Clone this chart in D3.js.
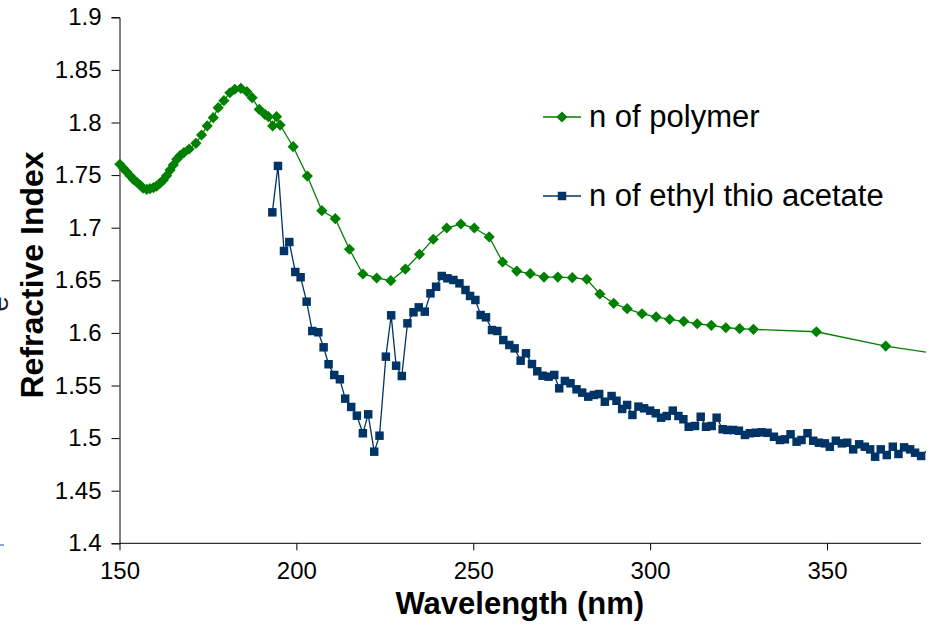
<!DOCTYPE html>
<html>
<head>
<meta charset="utf-8">
<script src="https://cdn.jsdelivr.net/npm/d3@7"></script>
<style>
  body { margin: 0; background: #fff; }
  text { font-family: "Liberation Sans", Arial, sans-serif; }
</style>
</head>
<body>
<script>
// tick labels
var xTicks = [150, 200, 250, 300, 350];
var yTicks = [1.4, 1.45, 1.5, 1.55, 1.6, 1.65, 1.7, 1.75, 1.8, 1.85, 1.9];

// n of polymer
var polyWl = [150.1, 151.1, 152.0, 153.0, 153.9, 154.9, 155.8, 156.7, 157.7, 158.6,
  159.6, 160.5, 161.4, 162.4, 163.3, 164.3, 165.2, 166.2, 167.1, 168.2,
  169.7, 171.6, 173.2, 174.8, 176.5, 177.9, 179.5, 181.2, 182.6, 184.3,
  186.0, 187.5, 189.5, 191.1, 192.1, 193.3, 194.4, 195.4, 199.1, 203.1,
  207.2, 211.0, 215.0, 218.8, 222.7, 226.7, 230.8, 234.8, 238.7, 242.5,
  246.5, 250.3, 254.5, 258.3, 262.3, 266.1, 270.0, 273.9, 278.0, 282.1,
  285.8, 289.7, 293.5, 297.7, 301.7, 305.5, 309.5, 313.3, 317.3, 321.4,
  325.3, 329.2, 347.0, 366.6, 390.0];
var polyN = [1.7603, 1.7565, 1.7532, 1.7494, 1.7460, 1.7432, 1.7406, 1.7375, 1.7365, 1.7371,
  1.7380, 1.7396, 1.7422, 1.7453, 1.7494, 1.7548, 1.7596, 1.7650, 1.7685, 1.7713,
  1.7748, 1.7802, 1.7881, 1.7967, 1.8046, 1.8141, 1.8207, 1.8283, 1.8316, 1.8325,
  1.8293, 1.8236, 1.8125, 1.8078, 1.8055, 1.7967, 1.8055, 1.7976, 1.7770, 1.7491,
  1.7162, 1.7086, 1.6795, 1.6560, 1.6522, 1.6496, 1.6607, 1.6747, 1.6890, 1.6997,
  1.7035, 1.6997, 1.6912, 1.6674, 1.6588, 1.6563, 1.6531, 1.6531, 1.6525, 1.6510,
  1.6370, 1.6281, 1.6230, 1.6182, 1.6152, 1.6129, 1.6110, 1.6087, 1.6072, 1.6049,
  1.6040, 1.6034, 1.6011, 1.5875, 1.5756];

// n of ethyl thio acetate
var thioWl = [193.2, 194.8, 196.5, 198.0, 199.7, 201.2, 202.9, 204.5, 206.2, 207.7,
  209.1, 210.7, 212.3, 213.8, 215.5, 217.1, 218.8, 220.3, 222.0, 223.5,
  225.3, 226.8, 228.2, 229.8, 231.4, 233.1, 234.6, 236.3, 237.9, 239.5,
  241.1, 242.7, 244.4, 246.1, 247.8, 249.1, 250.6, 252.1, 253.6, 255.3,
  256.8, 258.5, 260.2, 261.7, 263.4, 264.9, 266.6, 268.1, 269.6, 271.3,
  272.9, 274.3, 275.9, 277.5, 279.2, 280.8, 282.5, 284.1, 285.6, 287.2,
  289.1, 290.5, 292.1, 293.5, 295.0, 296.7, 298.3, 300.0, 301.6, 303.1,
  304.7, 306.4, 308.0, 309.4, 310.9, 312.7, 314.3, 315.8, 317.4, 318.8,
  320.5, 321.8, 323.5, 325.1, 326.8, 328.2, 329.9, 331.5, 333.2, 335.0,
  336.7, 338.1, 339.7, 341.4, 342.8, 344.5, 346.1, 347.7, 349.4, 350.8,
  352.5, 354.2, 355.7, 357.4, 359.1, 360.7, 362.2, 363.6, 365.2, 366.9,
  368.6, 370.2, 371.8, 373.5, 374.9, 376.6, 379.5];
var thioN = [1.7146, 1.7587, 1.6779, 1.6864, 1.6579, 1.6529, 1.6297, 1.6018, 1.6006, 1.5863,
  1.5702, 1.5600, 1.5559, 1.5375, 1.5296, 1.5213, 1.5046, 1.5226, 1.4871, 1.5023,
  1.5774, 1.6167, 1.5688, 1.5590, 1.6091, 1.6196, 1.6243, 1.6202, 1.6376, 1.6439,
  1.6541, 1.6519, 1.6503, 1.6471, 1.6408, 1.6351, 1.6313, 1.6170, 1.6148, 1.6027,
  1.6018, 1.5932, 1.5885, 1.5853, 1.5736, 1.5806, 1.5704, 1.5635, 1.5593, 1.5584,
  1.5600, 1.5473, 1.5543, 1.5521, 1.5464, 1.5432, 1.5394, 1.5410, 1.5419, 1.5346,
  1.5400, 1.5355, 1.5277, 1.5315, 1.5220, 1.5299, 1.5283, 1.5261, 1.5236, 1.5194,
  1.5210, 1.5261, 1.5210, 1.5179, 1.5108, 1.5115, 1.5203, 1.5108, 1.5115, 1.5194,
  1.5084, 1.5077, 1.5077, 1.5070, 1.5030, 1.5046, 1.5051, 1.5055, 1.5050, 1.5013,
  1.4982, 1.4988, 1.5036, 1.4966, 1.4982, 1.5046, 1.4975, 1.4956, 1.4950, 1.4918,
  1.4975, 1.4950, 1.4956, 1.4893, 1.4941, 1.4918, 1.4893, 1.4823, 1.4893, 1.4839,
  1.4918, 1.4849, 1.4912, 1.4893, 1.4861, 1.4830, 1.4920];

var seriesNames = ["n of polymer", "n of ethyl thio acetate"];
var green = "#008000", navy = "#003366";

var width = 935, height = 628;
var plotLeft = 119.5, plotRight = 926, plotTop = 17.3, plotBottom = 543.3;

var svg = d3.select("body").append("svg")
    .attr("width", width)
    .attr("height", height);

// scales
var x = d3.scaleLinear().domain([150, 350]).range([plotLeft, 827]);
var y = d3.scaleLinear().domain([1.4, 1.9]).range([plotBottom, plotTop]);

// clip the data at the cropped right edge
svg.append("clipPath").attr("id", "plotclip")
  .append("rect")
    .attr("x", plotLeft - 10).attr("y", 0)
    .attr("width", plotRight - plotLeft + 10).attr("height", height);

// y axis
var yAxis = svg.append("g")
    .attr("transform", "translate(" + plotLeft + ",0)")
    .call(d3.axisLeft(y).tickValues(yTicks).tickSize(8).tickPadding(10)
      .tickFormat(function(d) { return String(+d.toFixed(2)); }));
yAxis.select(".domain").attr("stroke", "#000");
yAxis.selectAll("text").attr("font-size", 24).attr("fill", "#000")
    .attr("font-family", "Liberation Sans, Arial, sans-serif");

// x axis
var xAxis = svg.append("g")
    .attr("transform", "translate(0," + plotBottom + ")")
    .call(d3.axisBottom(x).tickValues(xTicks).tickSize(7).tickPadding(12));
xAxis.select(".domain").remove();
xAxis.selectAll("text").attr("font-size", 24).attr("fill", "#000")
    .attr("font-family", "Liberation Sans, Arial, sans-serif");
svg.append("line")
    .attr("x1", plotLeft).attr("x2", 921)
    .attr("y1", plotBottom).attr("y2", plotBottom)
    .attr("stroke", "#000");

// axis titles
svg.append("text")
    .attr("x", (plotLeft + plotRight) / 2 - 3)
    .attr("y", 614)
    .attr("text-anchor", "middle")
    .attr("font-size", 31)
    .attr("font-weight", "bold")
    .text("Wavelength (nm)");

svg.append("text")
    .attr("transform", "translate(43,275) rotate(-90)")
    .attr("text-anchor", "middle")
    .attr("font-size", 32)
    .attr("font-weight", "bold")
    .text("Refractive Index");

// bits of a neighbouring figure cut off at the left edge
svg.append("text")
    .attr("transform", "translate(8,304) rotate(-90)")
    .attr("text-anchor", "middle")
    .attr("font-size", 28)
    .attr("fill", "#222")
    .text("e");
svg.append("line")
    .attr("x1", 0).attr("x2", 4).attr("y1", 545).attr("y2", 545)
    .attr("stroke", "#6f86c9").attr("stroke-width", 1.5);

var plot = svg.append("g").attr("clip-path", "url(#plotclip)");

var line = d3.line()
    .x(function(d) { return x(d[0]); })
    .y(function(d) { return y(d[1]); });

var polyData = d3.zip(polyWl, polyN);
var thioData = d3.zip(thioWl, thioN);

var diamond = d3.symbol().type(d3.symbolDiamond2).size(80);
var square = d3.symbol().type(d3.symbolSquare).size(72);

// polymer series
plot.append("path")
    .datum(polyData)
    .attr("fill", "none")
    .attr("stroke", green)
    .attr("stroke-width", 1.3)
    .attr("d", line);
plot.selectAll(".dia")
    .data(polyData)
  .enter().append("path")
    .attr("class", "dia")
    .attr("transform", function(d) { return "translate(" + x(d[0]) + "," + y(d[1]) + ")"; })
    .attr("d", diamond)
    .attr("fill", green);

// ethyl thio acetate series
plot.append("path")
    .datum(thioData)
    .attr("fill", "none")
    .attr("stroke", navy)
    .attr("stroke-width", 1.3)
    .attr("d", line);
plot.selectAll(".sq")
    .data(thioData)
  .enter().append("path")
    .attr("class", "sq")
    .attr("transform", function(d) { return "translate(" + x(d[0]) + "," + y(d[1]) + ")"; })
    .attr("d", square)
    .attr("fill", navy);

// legend
var legendY = [117, 196];
var legendColor = [green, navy];
var legendSym = [diamond, square];
seriesNames.forEach(function(name, i) {
  var g = svg.append("g").attr("transform", "translate(0," + legendY[i] + ")");
  g.append("line")
    .attr("x1", 543).attr("x2", 581)
    .attr("stroke", legendColor[i]).attr("stroke-width", 1.3);
  g.append("path")
    .attr("transform", "translate(562,0)")
    .attr("d", legendSym[i])
    .attr("fill", legendColor[i]);
  g.append("text")
    .attr("x", 589).attr("y", 10)
    .attr("font-size", 31)
    .text(name);
});
</script>
</body>
</html>
